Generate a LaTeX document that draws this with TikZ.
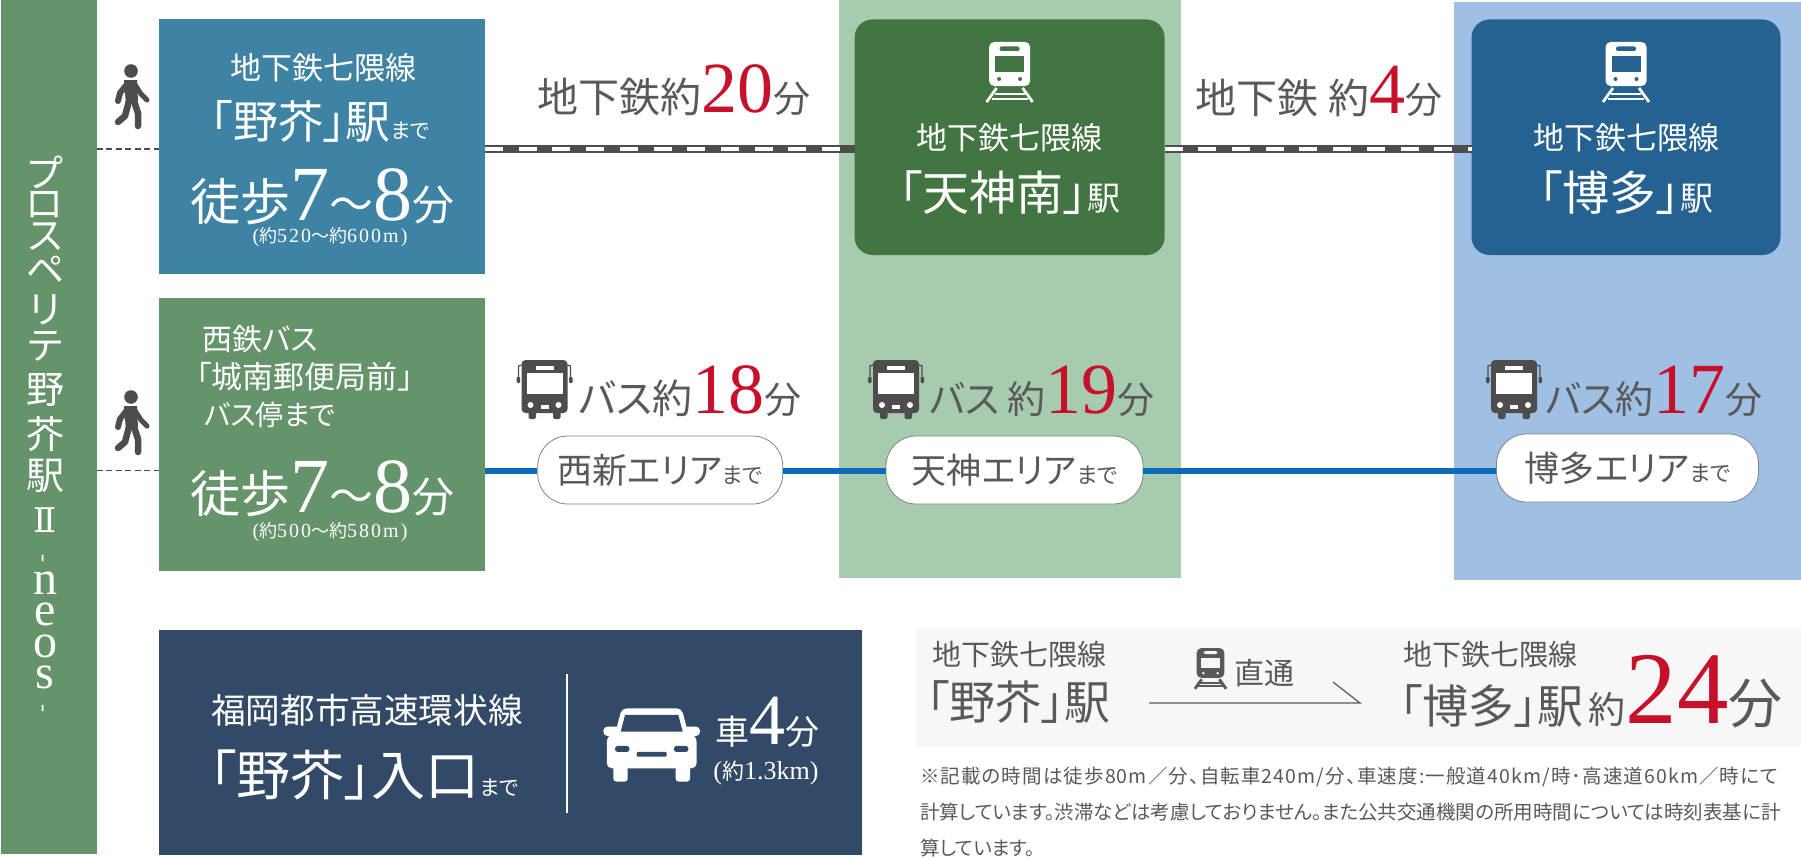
\documentclass[tikz,border=0pt]{standalone}
\usepackage{fontspec}
\setmainfont{Liberation Serif}
\newfontfamily\jpfont[RawFeature={+palt}]{Noto Sans CJK JP}
\newfontfamily\notefont[RawFeature={+palt},LetterSpace=5.7]{Noto Sans CJK JP}
\newfontfamily\spacedfont[LetterSpace=10]{Liberation Serif}
\newfontfamily\romanfont{DejaVu Serif}
\newcommand{\jptxt}[2]{{\fontsize{#1pt}{#1pt}\selectfont\jpfont #2}}
\newcommand{\numtxt}[2]{{\fontsize{#1pt}{#1pt}\selectfont\rmfamily #2}}
\newcommand{\spacetxt}[2]{{\fontsize{#1pt}{#1pt}\selectfont\spacedfont #2}}
\newcommand{\walktime}{\jptxt{50}{徒歩}\numtxt{78}{7}\jptxt{44}{〜}\numtxt{78}{8}\jptxt{42}{分}}
\definecolor{bandgreen}{HTML}{65946A}
\definecolor{walkblue}{HTML}{3E83A4}
\definecolor{tenjinpanel}{HTML}{A7CBAF}
\definecolor{tenjinbox}{HTML}{427542}
\definecolor{hakatapanel}{HTML}{9FBFE5}
\definecolor{hakatabox}{HTML}{256191}
\definecolor{navybox}{HTML}{334968}
\definecolor{notegray}{HTML}{F7F7F7}
\definecolor{textgray}{HTML}{595959}
\definecolor{iconDark}{HTML}{4D4D4D}
\definecolor{timered}{HTML}{C7102A}
\definecolor{busblue}{HTML}{0B6BB8}
\tikzset{
    pics/trainicon/.style n args={2}{code={
        \fill[#1, rounded corners=5pt] (-20.5,0) rectangle (20.5,44);
        \fill[#2] (-14.5,14) rectangle (14.5,30);
        \fill[#2, rounded corners=2pt] (-10,4.5) rectangle (10,9);
        \fill[#2] (-10.5,37) circle (2) (10.5,37) circle (2);
        \draw[#1, line width=2.8pt] (-13,46) -- (-23,60) (13,46) -- (23,60);
        \draw[#1, line width=2pt] (-15,52) -- (15,52) (-18,56.5) -- (18,56.5);
    }},
    pics/busicon/.style={code={
        \fill[iconDark, rounded corners=4pt] (-23,-30) rectangle (23,23);
        \fill[iconDark, rounded corners=2pt] (-16,18) rectangle (-8.5,29) (8.5,18) rectangle (16,29);
        \draw[iconDark, line width=1.2pt] (-23,-25) -- (-26,-24) -- (-26,-12) (23,-25) -- (26,-24) -- (26,-12);
        \fill[iconDark, rounded corners=1pt] (-28,-13) rectangle (-24.5,-7) (24.5,-13) rectangle (28,-7);
        \fill[white] (-18,-17) rectangle (18,4);
        \fill[white] (-9,-24.5) rectangle (9,-20);
        \fill[white] (-14,15) circle (3) (14,15) circle (3);
        \fill[white] (-4,15) rectangle (4,18.5);
    }},
    pics/walkicon/.style={code={
        \fill[iconDark] (0,0) circle (6.8);
        \draw[iconDark, line width=6pt, line cap=round, line join=round] (-3,12) -- (-11,22) -- (-13,30);
        \draw[iconDark, line width=5pt, line cap=round, line join=round] (3,12) -- (10,23) -- (16,29);
        \fill[iconDark] (-7,9) -- (6,9) -- (7,30) -- (-5,34) -- cycle;
        \draw[iconDark, line width=6.5pt, line cap=round, line join=round] (-2,30) -- (-6,45) -- (-13,51);
        \draw[iconDark, line width=6.5pt, line cap=round, line join=round] (3,30) -- (7,42) -- (7,55);
    }},
    pics/caricon/.style={code={
        \fill[white, rounded corners=5pt] (-90,55) -- (90,55) -- (108,125) -- (135,140) -- (135,235) -- (-135,235) -- (-135,140) -- (-108,125) -- cycle;
        \fill[white, rounded corners=3pt] (-115,225) rectangle (-72,275) (72,225) rectangle (115,275);
        \fill[white, rounded corners=4pt] (-145,110) rectangle (145,138);
        \fill[navybox] (-80,75) -- (80,75) -- (93,125) -- (-93,125) -- cycle;
        \fill[navybox, rounded corners=2.5pt] (-110,168) rectangle (-67,186) (67,168) rectangle (110,186);
        \fill[navybox, rounded corners=1pt] (-45,186) rectangle (45,200);
    }},
}
\begin{document}
\begin{tikzpicture}[
        x=1pt, y=-1pt,
        panel/.style={rectangle, inner sep=0, outer sep=0},
        roundbox/.style={panel, rounded corners=18pt},
        pill/.style={rectangle, draw=iconDark!70, fill=white, line width=0.8pt, rounded corners=30pt, minimum height=68pt, inner sep=0, text=textgray},
        wtxt/.style={inner sep=0, text=white},
        gtxt/.style={inner sep=0, text=textgray},
        rail/.style={line width=8pt, draw=iconDark},
        railgap/.style={line width=4.5pt, draw=white, dash pattern=on 18pt off 15.7pt},
        busline/.style={line width=6pt, draw=busblue},
        walkdash/.style={draw=iconDark, dash pattern=on 6pt off 3.5pt}
    ]
        \useasboundingbox (0,0) rectangle (1801,859);

        % Panels
        \node[panel, fill=tenjinpanel, minimum width=342.5pt, minimum height=578pt] (tenjinpanel) at (1009.75,289) {};
        \node[panel, fill=hakatapanel, minimum width=347pt, minimum height=578pt] (hakatapanel) at (1627.5,291) {};
        \node[panel, fill=bandgreen, minimum width=96pt, minimum height=854pt] (band) at (48.5,427) {};

        % Walk boxes
        \node[panel, fill=walkblue, minimum width=326.5pt, minimum height=254pt] (walkbox) at (321.75,146.5) {};
        \node[panel, fill=bandgreen, minimum width=326.5pt, minimum height=273.5pt] (busbox) at (321.75,434.25) {};

        % Station boxes
        \node[roundbox, fill=tenjinbox, minimum width=310pt, minimum height=235.5pt] (tenjinbox) at (1009.6,137.25) {};
        \node[roundbox, fill=hakatabox, minimum width=309pt, minimum height=235.5pt] (hakatabox) at (1626,137.25) {};

        % Lower boxes
        \node[panel, fill=navybox, minimum width=703pt, minimum height=225pt] (carbox) at (510,742) {};
        \node[panel, fill=notegray, minimum width=885pt, minimum height=118.5pt] (directbox) at (1358.5,687.25) {};

        % Bus stops
        \node[pill, minimum width=245pt] (nishijinpill) at (660.25,470) {\jptxt{35}{西新エリア}\jptxt{22}{まで}};
        \node[pill, minimum width=257pt] (tenjinpill) at (1014.5,470) {\jptxt{35}{天神エリア}\jptxt{22}{まで}};
        \node[pill, minimum width=262pt] (hakatapill) at (1627.5,468) {\jptxt{35}{博多エリア}\jptxt{22}{まで}};

        % Lines
        \coordinate (railrow) at (0,149);
        \coordinate (walkrow) at (0,470.5);
        \draw[walkdash, line width=2.2pt] (band.east |- railrow) -- (walkbox.west |- railrow);
        \draw[walkdash, line width=1.4pt] (band.east |- walkrow) -- (busbox.west |- walkrow);
        \draw[rail] (walkbox.east |- railrow) -- (tenjinbox.west |- railrow);
        \draw[railgap] (walkbox.east |- railrow) -- (tenjinbox.west |- railrow);
        \draw[rail] (tenjinbox.east |- railrow) -- (hakatabox.west |- railrow);
        \draw[railgap] (tenjinbox.east |- railrow) -- (hakatabox.west |- railrow);
        \draw[busline] (busbox.east |- walkrow) -- (nishijinpill.west |- walkrow);
        \draw[busline] (nishijinpill.east |- walkrow) -- (tenjinpill.west |- walkrow);
        \draw[busline] (tenjinpill.east |- walkrow) -- (hakatapill.west |- walkrow);

        % Band title
        \foreach \ch/\py [count=\i] in {プ/172,ロ/205,ス/237,ペ/270,リ/310,テ/346,野/390,芥/434,駅/476}
            \node[wtxt] (bandtitle\i) at (45,\py) {\jptxt{38}{\ch}};
        \node[wtxt] (bandroman) at (45,520) {\fontsize{34pt}{34pt}\selectfont\romanfont Ⅱ};
        \foreach \ch/\py [count=\i] in {n/583,e/614,o/646,s/677}
            \node[wtxt] (bandlatin\i) at (45,\py) {\numtxt{48}{\ch}};
        \node[wtxt, rotate=90] (banddash1) at (45,558) {\numtxt{24}{-}};
        \node[wtxt, rotate=90] (banddash2) at (45,708) {\numtxt{24}{-}};

        % Walkers
        \pic at (131,71) {walkicon};
        \pic at (131,397) {walkicon};

        % Walk box 1
        \node[wtxt] (walk1a) at (323,68) {\jptxt{31}{地下鉄七隈線}};
        \node[wtxt] (walk1b) at (320,121) {\jptxt{45}{「野芥」駅}\jptxt{21}{まで}};
        \node[wtxt] (walk1c) at (322,197) {\walktime};
        \node[wtxt] (walk1d) at (330,237) {\spacetxt{20}{(}\jptxt{18}{約}\spacetxt{20}{520}\jptxt{18}{〜約}\spacetxt{20}{600m)}};

        % Walk box 2
        \node[wtxt, anchor=west] (walk2a) at (202,339) {\jptxt{30}{西鉄バス}};
        \node[wtxt, anchor=west] (walk2b) at (196,377) {\jptxt{31}{「城南郵便局前」}};
        \node[wtxt, anchor=west] (walk2c) at (204,415) {\jptxt{28}{バス停まで}};
        \node[wtxt] (walk2d) at (322,489) {\walktime};
        \node[wtxt] (walk2e) at (330,532) {\spacetxt{20}{(}\jptxt{18}{約}\spacetxt{20}{500}\jptxt{18}{〜約}\spacetxt{20}{580m)}};

        % Subway times
        \node[gtxt] (subwaytime1) at (674,90) {\jptxt{41}{地下鉄約}\textcolor{timered}{\numtxt{72}{20}}\jptxt{37}{分}};
        \node[gtxt] (subwaytime2) at (1319,92) {\jptxt{41}{地下鉄 約}\textcolor{timered}{\numtxt{72}{4}}\jptxt{37}{分}};

        % Station labels
        \pic at (1009.6,42) {trainicon={white}{tenjinbox}};
        \node[wtxt] (tenjin1) at (1009.6,138) {\jptxt{31}{地下鉄七隈線}};
        \node[wtxt] (tenjin2) at (1009.6,193) {\jptxt{47}{「天神南」}\jptxt{33}{駅}};
        \pic at (1626,42) {trainicon={white}{hakatabox}};
        \node[wtxt] (hakata1) at (1626,138) {\jptxt{31}{地下鉄七隈線}};
        \node[wtxt] (hakata2) at (1626,193) {\jptxt{47}{「博多」}\jptxt{33}{駅}};

        % Bus times
        \pic at (544.5,390) {busicon};
        \node[gtxt] (bustime1) at (690,391) {\jptxt{40}{バス約}\textcolor{timered}{\numtxt{72}{18}}\jptxt{37}{分}};
        \pic at (896,390) {busicon};
        \node[gtxt] (bustime2) at (1042,391) {\jptxt{38}{バス 約}\textcolor{timered}{\numtxt{72}{19}}\jptxt{37}{分}};
        \pic at (1514,390) {busicon};
        \node[gtxt] (bustime3) at (1654,391) {\jptxt{38}{バス約}\textcolor{timered}{\numtxt{72}{17}}\jptxt{37}{分}};

        % Car box
        \node[wtxt] (car1) at (367,710) {\jptxt{34.6}{福岡都市高速環状線}};
        \node[wtxt] (car2) at (364,775) {\jptxt{54}{「野芥」入口}\jptxt{21}{まで}};
        \coordinate (dividertop) at (567,674);
        \coordinate (dividerbottom) at (567,813);
        \draw[white, line width=1.5pt] (dividertop) -- (dividerbottom);
        \pic[scale=0.333] at (651.7,690) {caricon};
        \node[wtxt] (car3) at (767.5,722) {\jptxt{34}{車}\numtxt{72}{4}\jptxt{34}{分}};
        \node[wtxt] (car4) at (766,773) {\numtxt{26}{(}\jptxt{22}{約}\numtxt{26}{1.3km)}};

        % Direct route
        \node[gtxt] (direct1) at (1019,655) {\jptxt{29}{地下鉄七隈線}};
        \node[gtxt] (direct2) at (1018.5,702) {\jptxt{46}{「野芥」駅}};
        \pic[scale=0.68] at (1210.5,648) {trainicon={textgray}{notegray}};
        \node[gtxt] (direct3) at (1264,673) {\jptxt{30}{直通}};
        \coordinate (arrowstart) at (1149,703);
        \coordinate (arrowend) at (1360,703);
        \coordinate (arrowhook) at (1333,682);
        \draw[textgray, line width=1.2pt] (arrowstart) -- (arrowend) -- (arrowhook);
        \node[gtxt] (direct4) at (1490,655) {\jptxt{29}{地下鉄七隈線}};
        \node[gtxt] (direct5) at (1591,692) {\jptxt{46}{「博多」駅}\hspace{5pt}\jptxt{37}{約}\textcolor{timered}{\numtxt{103}{24}}\jptxt{54}{分}};

        % Notes
        \node[gtxt, anchor=west] (note1) at (920,777) {\fontsize{19.5pt}{19.5pt}\selectfont\notefont ※記載の時間は徒歩80m／分、自転車240m/分、車速度:一般道40km/時･高速道60km／時にて};
        \node[gtxt, anchor=west] (note2) at (920,812) {\jptxt{19.5}{計算しています。渋滞などは考慮しておりません。また公共交通機関の所用時間については時刻表基に計}};
        \node[gtxt, anchor=west] (note3) at (920,848) {\jptxt{19.5}{算しています。}};
    \end{tikzpicture}
\end{document}
